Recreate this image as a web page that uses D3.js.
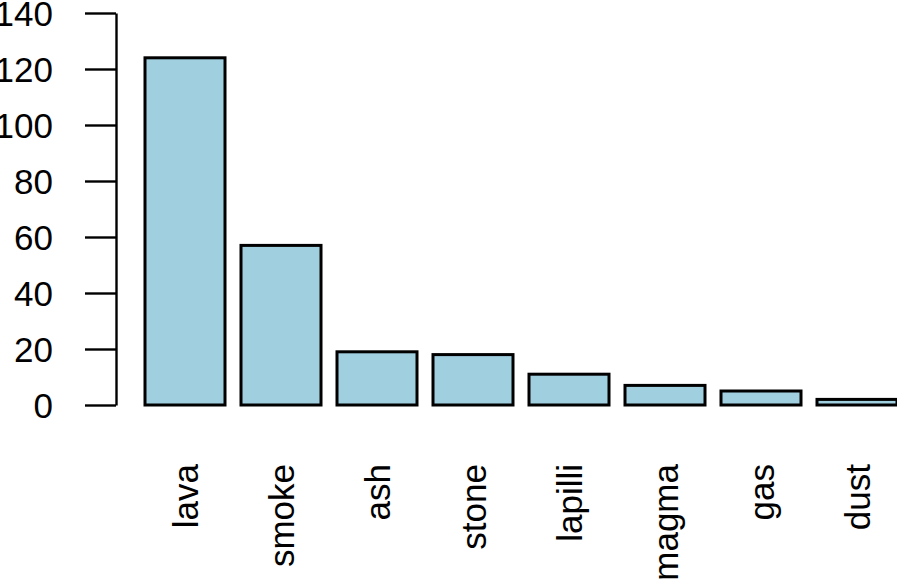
<!DOCTYPE html>
<html lang="en">
<head>
    <meta charset="UTF-8">
    <title>Volcano words</title>
    <script src="https://d3js.org/d3.v7.min.js"></script>
    <style>
        body { margin: 0; background: white; }
        text { font-family: "Liberation Sans", Arial, sans-serif; fill: black; }
    </style>
</head>
<body>
    <svg id='svg'></svg>
    <script>
        const categories = ['lava', 'smoke', 'ash', 'stone', 'lapilli', 'magma', 'gas', 'dust'];
        const counts = [124, 57, 19, 18, 11, 7, 5, 2];
        const yTicks = [0, 20, 40, 60, 80, 100, 120, 140];

        const width = 897;
        const height = 581;
        const svg = d3.select('#svg')
            .attr('width', width)
            .attr('height', height);

        const xScale = d3.scaleBand()
            .domain(categories)
            .range([145, 897])
            .paddingInner(1 / 6)
            .paddingOuter(0);
        const yScale = d3.scaleLinear()
            .domain([0, 140])
            .range([405, 13]);

        // bars
        svg.selectAll('rect.bar')
            .data(categories)
            .enter()
            .append('rect')
            .attr('class', 'bar')
            .attr('x', d => xScale(d))
            .attr('y', (d, i) => yScale(counts[i]))
            .attr('width', xScale.bandwidth())
            .attr('height', (d, i) => yScale(0) - yScale(counts[i]))
            .attr('fill', '#a0cfdf')
            .attr('stroke', 'black')
            .attr('stroke-width', 3);

        // y axis
        const yAxis = d3.axisLeft(yScale)
            .tickValues(yTicks)
            .tickSize(31)
            .tickPadding(32)
            .tickSizeOuter(0);
        const gy = svg.append('g')
            .attr('transform', 'translate(116,0)')
            .call(yAxis);
        gy.select('.domain').attr('stroke-width', 2.4);
        gy.selectAll('.tick line').attr('stroke-width', 2.4);
        gy.selectAll('.tick text')
            .style('font-size', '35px')
            .attr('dy', '0.36em');

        // x labels, rotated
        svg.selectAll('text.xlab')
            .data(categories)
            .enter()
            .append('text')
            .attr('class', 'xlab')
            .attr('transform', d => 'translate(' + (xScale(d) + xScale.bandwidth() / 2) + ',464) rotate(-90)')
            .attr('text-anchor', 'end')
            .attr('dy', '0.36em')
            .style('font-size', '35px')
            .text(d => d);
    </script>
</body>
</html>
